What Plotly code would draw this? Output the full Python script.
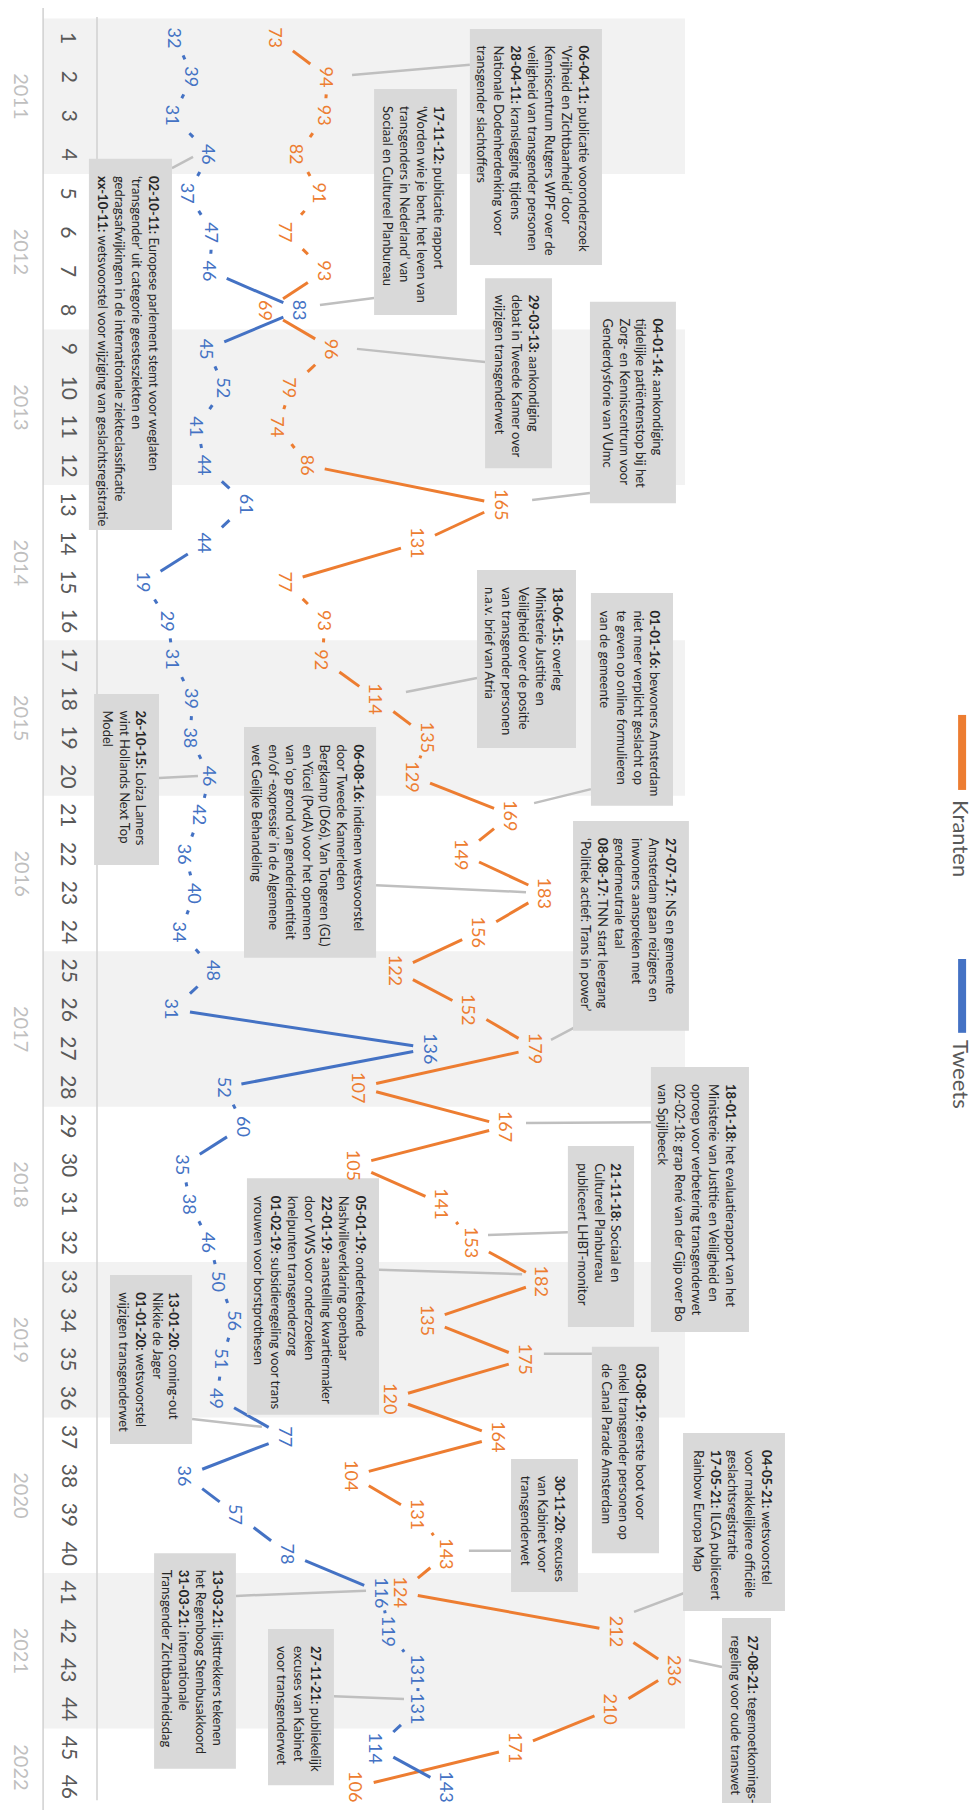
import plotly.graph_objects as go

# ---------------- data ----------------
quarters = list(range(1, 47))
quarter_labels = [str(q) for q in range(1, 47)]
year_labels = ["2011", "2012", "2013", "2014", "2015", "2016",
               "2017", "2018", "2019", "2020", "2021", "2022"]
year_centers = [2.5, 6.5, 10.5, 14.5, 18.5, 22.5, 26.5, 30.5, 34.5, 38.5, 42.5, 45.5]

kranten = [73, 94, 93, 82, 91, 77, 93, 69, 96, 79, 74, 86,
           165, 131, 77, 93, 92, 114, 135, 129, 169, 149, 183, 156,
           122, 152, 179, 107, 167, 105, 141, 153, 182, 135, 175, 120,
           164, 104, 131, 143, 124, 212, 236, 210, 171, 106]
tweets = [32, 39, 31, 46, 37, 47, 46, 83, 45, 52, 41, 44,
          61, 44, 19, 29, 31, 39, 38, 46, 42, 36, 40, 34,
          48, 31, 136, 52, 60, 35, 38, 46, 50, 56, 51, 49,
          77, 36, 57, 78, 116, 119, 131, 131, 114, 143]

series_names = ["Kranten", "Tweets"]

callout_texts = [
    "<b>06-04-11:</b> publicatie vooronderzoek<br>‘Vrijheid en Zichtbaarheid’ door<br>Kenniscentrum Rutgers WPF over de<br>veiligheid van transgender personen<br><b>28-04-11:</b> kranslegging tijdens<br>Nationale Dodenherdenking voor<br>transgender slachtoffers",
    "<b>17-11-12:</b> publicatie rapport<br>‘Worden wie je bent, het leven van<br>transgenders in Nederland’ van<br>Sociaal en Cultureel Planbureau",
    "<b>02-10-11:</b> Europese parlement stemt voor weglaten<br>‘transgender’ uit categorie geestesziekten en<br>gedragsafwijkingen in de internationale ziekteclassificatie<br><b>xx-10-11:</b> wetsvoorstel voor wijziging van geslachtsregistratie",
    "<b>29-03-13:</b> aankondiging<br>debat in Tweede Kamer over<br>wijzigen transgenderwet",
    "<b>04-01-14:</b> aankondiging<br>tijdelijke patiëntenstop bij het<br>Zorg- en Kenniscentrum voor<br>Genderdysforie van VUmc",
    "<b>18-06-15:</b> overleg<br>Ministerie Justitie en<br>Veiligheid over de positie<br>van transgender personen<br>n.a.v. brief van Atria",
    "<b>01-01-16:</b> bewoners Amsterdam<br>niet meer verplicht geslacht op<br>te geven op online formulieren<br>van de gemeente",
    "<b>26-10-15:</b> Loiza Lamers<br>wint Hollands Next Top<br>Model",
    "<b>06-08-16:</b> indienen wetsvoorstel<br>door Tweede Kamerleden<br>Bergkamp (D66), Van Tongeren (GL)<br>en Yücel (PvdA) voor het opnemen<br>van ‘op grond van genderidentiteit<br>en/of -expressie’ in de Algemene<br>wet Gelijke Behandeling",
    "<b>27-07-17:</b> NS en gemeente<br>Amsterdam gaan reizigers en<br>inwoners aanspreken met<br>genderneutrale taal<br><b>08-08-17:</b> TNN start leergang<br>‘Politiek actief: Trans in power’",
    "<b>18-01-18:</b> het evaluatierapport van het<br>Ministerie van Justitie en Veiligheid en<br>oproep voor verbetering transgenderwet<br>02-02-18: grap René van der Gijp over Bo<br>van Spijlbeeck",
    "<b>21-11-18:</b> Sociaal en<br>Cultureel Planbureau<br>publiceert LHBT-monitor",
    "<b>05-01-19:</b> ondertekende<br>Nashvilleverklaring openbaar<br><b>22-01-19:</b> aanstelling kwartiermaker<br>door VWS voor onderzoeken<br>knelpunten transgenderzorg<br><b>01-02-19:</b> subsidieregeling voor trans<br>vrouwen voor borstprothesen",
    "<b>13-01-20:</b> coming-out<br>Nikkie de Jager<br><b>01-01-20:</b> wetsvoorstel<br>wijzigen transgenderwet",
    "<b>03-08-19:</b> eerste boot voor<br>enkel transgender personen op<br>de Canal Parade Amsterdam",
    "<b>30-11-20:</b> excuses<br>van Kabinet voor<br>transgenderwet",
    "<b>04-05-21:</b> wetsvoorstel<br>voor makkelijkere officiële<br>geslachtsregistratie<br><b>17-05-21:</b> ILGA publiceert<br>Rainbow Europa Map",
    "<b>13-03-21:</b> lijsttrekkers tekenen<br>het Regenboog Stembusakkoord<br><b>31-03-21:</b> internationale<br>Transgender Zichtbaarheidsdag",
    "<b>27-11-21:</b> publiekelijk<br>excuses van Kabinet<br>voor transgenderwet",
    "<b>27-08-21:</b> tegemoetkomings-<br>regeling voor oude transwet",
]

# ---------------- layout (positions / styles) ----------------
# callout boxes: (value0, value1, quarter0, quarter1)
callout_boxes = [
    (152.2, 206.1, 0.77, 6.84), (113.1, 146.9, 2.31, 8.13), (-3.3, 30.6, 4.11, 13.66),
    (158.4, 185.7, 7.18, 12.07), (201.2, 236.3, 7.79, 12.97), (155.1, 195.5, 14.69, 19.27),
    (201.6, 235.1, 15.28, 20.76), (-1.2, 25.3, 17.88, 22.28), (60.0, 113.9, 18.73, 24.67),
    (194.3, 241.6, 21.15, 26.55), (226.1, 266.1, 27.48, 34.30), (192.2, 219.2, 29.51, 34.17),
    (61.2, 115.1, 30.34, 36.43), (5.3, 38.8, 32.83, 37.18), (202.0, 229.4, 34.68, 39.99),
    (169.0, 196.3, 37.57, 40.99), (239.2, 280.8, 36.90, 41.48), (23.3, 56.7, 39.99, 45.54),
    (69.8, 96.7, 41.94, 45.96), (255.1, 275.1, 41.66, 46.42),
]
# connectors: ((value, quarter) start, (value, quarter) end)
callout_links = [
    ((104.1, 1.95), (152.2, 1.69)), ((91.0, 7.87), (113.1, 7.69)), ((30.6, 4.35), (39.2, 4.06)),
    ((106.1, 9.00), (158.4, 9.34)), ((177.6, 12.89), (201.2, 12.71)), ((126.1, 17.83), (155.1, 17.47)),
    ((178.4, 20.69), (201.6, 20.33)), ((25.3, 20.04), (41.2, 19.99)), ((113.9, 22.80), (175.1, 22.98)),
    ((185.3, 26.78), (196.7, 26.40)), ((175.1, 28.92), (226.1, 28.90)), ((159.6, 31.80), (192.2, 31.73)),
    ((115.1, 32.70), (173.5, 32.81)), ((38.8, 36.54), (67.3, 36.74)), ((182.4, 34.86), (202.0, 34.86)),
    ((151.8, 39.93), (169.0, 39.93)), ((219.2, 41.50), (240.8, 40.99)), ((56.7, 41.09), (109.8, 40.96)),
    ((96.7, 43.67), (125.3, 43.74)), ((241.6, 42.74), (255.1, 42.92)),
]

PAGE_MARGIN = 8          # default body margin of the html page
FIG_W, FIG_H = 980 - PAGE_MARGIN, 1810 - PAGE_MARGIN
PX_PER_V = 2.45          # pixels per value unit
PX_PER_Q = 38.86         # pixels per quarter
ZERO_PX = 97 - PAGE_MARGIN   # figure pixel of value 0
Q1_PX = 38 - PAGE_MARGIN     # figure pixel of quarter 1
X_RANGE = [-ZERO_PX / PX_PER_V, (FIG_W - ZERO_PX) / PX_PER_V]
Y_RANGE = [1 + (FIG_H - Q1_PX) / PX_PER_Q, 1 - Q1_PX / PX_PER_Q]

ORANGE = "#ED7D31"
BLUE = "#4472C4"
BAND = "#F2F2F2"
BOXFILL = "#D9D9D9"
LINKCOL = "#BFBFBF"
RULECOL = "#D0D0D0"
FONT = "Lato, 'Noto Sans', sans-serif"
BOXFONT = "'Liberation Sans Narrow', Lato, sans-serif"
LABEL_FS = 18
BAND_LEFT = -22.0
BAND_RIGHT = 240.0
YEAR_X = -30.6
QUARTER_X = -11.0
LEGEND_X = 353.1


def half_box(v):
    n = len(str(v))
    return 17.0, n * 0.29 * LABEL_FS + 7.0


def trimmed(values):
    xs, ys = [], []
    for i in range(len(values) - 1):
        v0, v1 = values[i], values[i + 1]
        q0, q1 = quarters[i], quarters[i + 1]
        dx = (v1 - v0) * PX_PER_V
        dy = (q1 - q0) * PX_PER_Q
        hx0, hy0 = half_box(v0)
        hx1, hy1 = half_box(v1)
        s0 = min(hx0 / abs(dx) if dx else 9, hy0 / abs(dy))
        s1 = min(hx1 / abs(dx) if dx else 9, hy1 / abs(dy))
        length = (dx ** 2 + dy ** 2) ** 0.5
        min_s = 3.0 / length
        if 1 - s0 - s1 < min_s:
            mid = (s0 + (1 - s1)) / 2
            s0 = mid - min_s / 2
            e = mid + min_s / 2
        else:
            e = 1 - s1
        xs += [v0 + s0 * (v1 - v0), v0 + e * (v1 - v0), None]
        ys += [q0 + s0 * (q1 - q0), q0 + e * (q1 - q0), None]
    return xs, ys


fig = go.Figure()

shapes = []
# year bands
for k in range(0, len(year_labels), 2):
    q_start = 4 * k + 0.5
    q_end = min(4 * k + 4.5, len(quarters) + 0.5)
    shapes.append(dict(type="rect", xref="x", yref="y", x0=BAND_LEFT, x1=BAND_RIGHT,
                       y0=q_start, y1=q_end, fillcolor=BAND, line=dict(width=0), layer="below"))
# rules
shapes.append(dict(type="line", xref="x", yref="y", x0=BAND_LEFT, x1=BAND_LEFT,
                   y0=0.15, y1=Y_RANGE[0], line=dict(color=RULECOL, width=1.5), layer="below"))
shapes.append(dict(type="line", xref="x", yref="y", x0=0, x1=0,
                   y0=0.46, y1=46.35, line=dict(color=RULECOL, width=1.5), layer="below"))

# series lines
for vals, col, name in [(kranten, ORANGE, series_names[0]), (tweets, BLUE, series_names[1])]:
    xs, ys = trimmed(vals)
    fig.add_trace(go.Scatter(x=xs, y=ys, mode="lines", name=name,
                             line=dict(color=col, width=3), hoverinfo="skip", showlegend=False))

# connectors and boxes
for (a, b) in callout_links:
    shapes.append(dict(type="line", xref="x", yref="y", x0=a[0], y0=a[1], x1=b[0], y1=b[1],
                       line=dict(color=LINKCOL, width=2.5)))
for (v0, v1, q0, q1) in callout_boxes:
    shapes.append(dict(type="rect", xref="x", yref="y", x0=v0, x1=v1, y0=q0, y1=q1,
                       fillcolor=BOXFILL, line=dict(width=0)))

# legend
shapes.append(dict(type="line", xref="x", yref="y", x0=LEGEND_X, x1=LEGEND_X, y0=18.42, y1=20.35,
                   line=dict(color=ORANGE, width=8)))
shapes.append(dict(type="line", xref="x", yref="y", x0=LEGEND_X, x1=LEGEND_X, y0=24.70, y1=26.60,
                   line=dict(color=BLUE, width=8)))

annotations = []
for txt, yc in zip(year_labels, year_centers):
    annotations.append(dict(x=YEAR_X, y=yc, xref="x", yref="y", text=txt, showarrow=False,
                            textangle=90, borderpad=0,
                            font=dict(family=FONT, size=20, color="#BFBFBF")))
for q, lab in zip(quarters, quarter_labels):
    annotations.append(dict(x=QUARTER_X, y=q, xref="x", yref="y", text=lab, showarrow=False,
                            textangle=90, font=dict(family=FONT, size=21, color="#595959")))
for vals, col in [(kranten, ORANGE), (tweets, BLUE)]:
    for q, v in zip(quarters, vals):
        annotations.append(dict(x=v, y=q, xref="x", yref="y", text=str(v), showarrow=False,
                                textangle=90, font=dict(family=FONT, size=LABEL_FS, color=col)))
for txt, (v0, v1, q0, q1) in zip(callout_texts, callout_boxes):
    annotations.append(dict(x=v1, y=q0, xref="x", yref="y", xanchor="right", yanchor="top",
                            xshift=-8, yshift=-15, text=txt, showarrow=False, textangle=90,
                            align="left", font=dict(family=BOXFONT, size=13, color="#262626")))
annotations.append(dict(x=LEGEND_X, y=21.59, xref="x", yref="y", text=series_names[0], showarrow=False,
                        textangle=90, font=dict(family=FONT, size=22, color="#595959")))
annotations.append(dict(x=LEGEND_X, y=27.66, xref="x", yref="y", text=series_names[1], showarrow=False,
                        textangle=90, font=dict(family=FONT, size=22, color="#595959")))

fig.update_layout(
    width=FIG_W, height=FIG_H, autosize=False,
    margin=dict(l=0, r=0, t=0, b=0, pad=0),
    paper_bgcolor="white", plot_bgcolor="white",
    xaxis=dict(range=X_RANGE, visible=False, fixedrange=True),
    yaxis=dict(range=Y_RANGE, visible=False, fixedrange=True),
    shapes=shapes, annotations=annotations, showlegend=False,
)

fig.write_html("out.html")
